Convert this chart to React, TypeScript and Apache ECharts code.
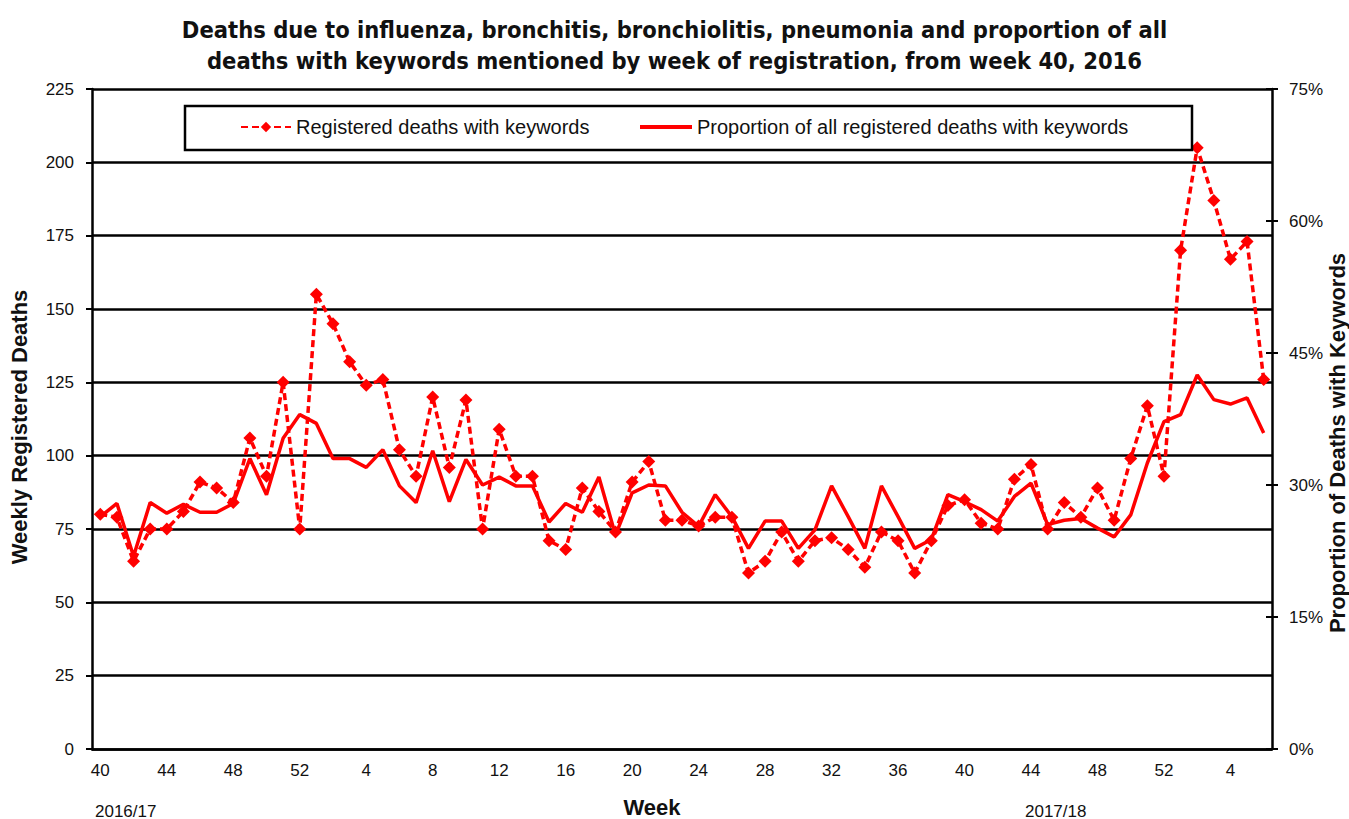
import React, { useEffect, useRef } from "react";
import * as echarts from "echarts";

const weeks: string[] = [
  "40", "41", "42", "43", "44", "45", "46", "47", "48", "49", "50", "51", "52",
  "1", "2", "3", "4", "5", "6", "7", "8", "9", "10", "11", "12", "13", "14", "15", "16", "17", "18", "19", "20",
  "21", "22", "23", "24", "25", "26", "27", "28", "29", "30", "31", "32", "33", "34", "35", "36", "37", "38", "39", "40",
  "41", "42", "43", "44", "45", "46", "47", "48", "49", "50", "51", "52",
  "1", "2", "3", "4", "5", "6",
];

const deaths: number[] = [
  80, 79, 64, 75, 75, 81, 91, 89, 84, 106, 93, 125, 75,
  155, 145, 132, 124, 126, 102,
  93, 120, 96, 119, 75, 109, 93, 93, 71, 68, 89, 81, 74, 91, 98, 78, 78, 76,
  79, 79, 60, 64, 74, 64, 71, 72, 68, 62, 74, 71, 60, 71, 83, 85, 77, 75,
  92, 97, 75, 84, 79, 89, 78, 99, 117, 93, 170, 205, 187, 167, 173, 126,
];

const proportion: number[] = [
  26.4, 27.9, 21.9, 28.0, 26.8, 27.8, 26.9, 26.9, 27.9, 33.0, 28.9, 35.3, 38.0, 37.0, 33.0, 33.0, 32.0, 34.0, 29.9,
  28.0, 33.9, 28.1, 32.9, 30.0, 30.9, 29.9, 29.9, 25.8, 27.9, 26.9, 30.9, 24.3, 29.1, 30.0, 29.9, 26.9, 25.3,
  28.9, 26.4, 22.8, 25.9, 25.9, 22.8, 24.9, 29.9, 26.4, 22.8, 29.9, 26.4, 22.8, 23.8, 28.9, 28.1, 27.2, 25.9,
  28.7, 30.2, 25.5, 26.0, 26.2, 25.1, 24.1, 26.6, 32.5, 37.2, 38.0, 42.5, 39.7, 39.2, 39.9, 35.9,
];

const seriesNames = [
  "Registered deaths with keywords",
  "Proportion of all registered deaths with keywords",
];

const titleLines = [
  "Deaths due to influenza, bronchitis, bronchiolitis, pneumonia and proportion of all",
  "deaths with keywords mentioned by week of registration, from week 40, 2016",
];

const seasonLabels = ["2016/17", "2017/18"];

const FONT = "'Liberation Sans', Arial, sans-serif";
const TXT = "#111111";
const RED = "#ff0000";

export default function App() {
  const ref = useRef<HTMLDivElement>(null);
  useEffect(() => {
    if (!ref.current) return;
    const chart = echarts.init(ref.current, undefined, { renderer: "svg" });
    const option: any = {
      animation: false,
      backgroundColor: "#ffffff",
      title: {
        text: titleLines.join("\n"),
        left: "center",
        top: 9,
        textStyle: {
          fontFamily: "'DejaVu Sans Condensed', 'Liberation Sans', Arial, sans-serif",
          fontWeight: "bold",
          fontSize: 23.5,
          lineHeight: 31,
          color: TXT,
        },
      },
      grid: { left: 92, right: 77, top: 89, bottom: 70, containLabel: false },
      legend: [
        {
          data: [{ name: seriesNames[0] }],
          left: 240,
          top: 117,
          itemWidth: 50,
          itemHeight: 13,
          padding: 0,
          textStyle: { fontFamily: FONT, fontSize: 20, color: TXT },
          z: 10,
        },
        {
          data: [{ name: seriesNames[1], icon: "rect" }],
          left: 640,
          top: 117,
          itemWidth: 52,
          itemHeight: 4,
          padding: 0,
          textStyle: { fontFamily: FONT, fontSize: 20, color: TXT },
          z: 10,
        },
      ],
      xAxis: {
        type: "category",
        data: weeks,
        boundaryGap: true,
        axisLine: { lineStyle: { color: "#000", width: 2.5 } },
        axisTick: { interval: 3, length: 6, lineStyle: { color: "#000", width: 2 } },
        axisLabel: { interval: 3, margin: 13, fontFamily: FONT, fontSize: 17, color: TXT },
        splitLine: { show: false },
      },
      yAxis: [
        {
          type: "value",
          min: 0,
          max: 225,
          interval: 25,
          position: "left",
          axisLine: { show: true, lineStyle: { color: "#000", width: 2.5 } },
          axisTick: { show: true, length: 6, lineStyle: { color: "#000", width: 2 } },
          axisLabel: { margin: 18, fontFamily: FONT, fontSize: 17, color: TXT },
          splitLine: { show: true, lineStyle: { color: "#000", width: 2.5 } },
        },
        {
          type: "value",
          min: 0,
          max: 75,
          interval: 15,
          position: "right",
          axisLine: { show: true, lineStyle: { color: "#000", width: 2.5 } },
          axisTick: { show: true, length: 6, lineStyle: { color: "#000", width: 2 } },
          axisLabel: { margin: 17, formatter: "{value}%", fontFamily: FONT, fontSize: 17, color: TXT },
          splitLine: { show: false },
        },
        {
          type: "value",
          min: 0,
          max: 75,
          interval: 15,
          position: "right",
          axisLine: { show: false },
          axisTick: { show: true, inside: true, length: 6, lineStyle: { color: "#000", width: 2 } },
          axisLabel: { show: false },
          splitLine: { show: false },
        },
      ],
      graphic: [
        {
          type: "rect",
          z: 5,
          shape: { x: 185, y: 106, width: 1007, height: 44 },
          style: { fill: "#ffffff", stroke: "#000000", lineWidth: 2.5 },
        },
        {
          type: "text",
          x: 19,
          y: 427,
          rotation: Math.PI / 2,
          style: {
            text: "Weekly Registered Deaths",
            fontFamily: FONT,
            fontWeight: "bold",
            fontSize: 22,
            fill: TXT,
            textAlign: "center",
            textVerticalAlign: "middle",
          },
        },
        {
          type: "text",
          x: 1337,
          y: 443,
          rotation: Math.PI / 2,
          style: {
            text: "Proportion of Deaths with Keywords",
            fontFamily: FONT,
            fontWeight: "bold",
            fontSize: 22,
            fill: TXT,
            textAlign: "center",
            textVerticalAlign: "middle",
          },
        },
        {
          type: "text",
          x: 652,
          y: 807,
          style: {
            text: "Week",
            fontFamily: FONT,
            fontWeight: "bold",
            fontSize: 22,
            fill: TXT,
            textAlign: "center",
            textVerticalAlign: "middle",
          },
        },
        {
          type: "text",
          x: 95,
          y: 811,
          style: {
            text: seasonLabels[0],
            fontFamily: FONT,
            fontSize: 17,
            fill: TXT,
            textAlign: "left",
            textVerticalAlign: "middle",
          },
        },
        {
          type: "text",
          x: 1025,
          y: 811,
          style: {
            text: seasonLabels[1],
            fontFamily: FONT,
            fontSize: 17,
            fill: TXT,
            textAlign: "left",
            textVerticalAlign: "middle",
          },
        },
      ],
      series: [
        {
          name: seriesNames[0],
          type: "line",
          yAxisIndex: 0,
          data: deaths,
          symbol: "diamond",
          symbolSize: 13,
          showSymbol: true,
          showAllSymbol: true,
          itemStyle: { color: RED },
          lineStyle: { color: RED, width: 3.5, type: [7, 4] },
          z: 3,
        },
        {
          name: seriesNames[1],
          type: "line",
          yAxisIndex: 1,
          data: proportion,
          symbol: "none",
          itemStyle: { color: RED },
          lineStyle: { color: RED, width: 3.5 },
          z: 2,
        },
      ],
    };
    chart.setOption(option);
    return () => chart.dispose();
  }, []);
  return (
    <div
      ref={ref}
      style={{ position: "absolute", left: 0, top: 0, width: 1349, height: 819 }}
    />
  );
}
